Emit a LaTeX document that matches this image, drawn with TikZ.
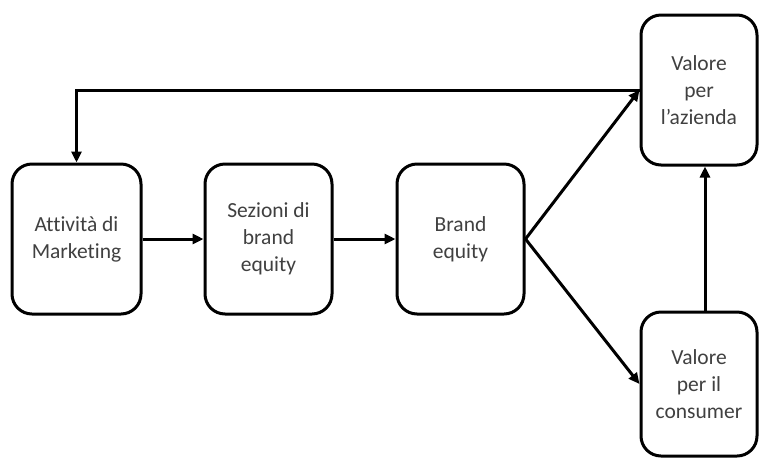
\documentclass[tikz,border=0pt]{standalone}
\usepackage{fontspec}
\setmainfont[Ligatures=NoCommon]{Carlito}
\usetikzlibrary{arrows.meta}
\tikzset{
  box/.style={draw=black, line width=3pt, rounded corners=20pt, fill=white,
    align=center, text=black!75, inner sep=2pt,
    font=\fontsize{21.5}{27}\selectfont},
  link/.style={line width=3pt, -{Triangle[length=11pt,width=10pt]}}
}
\begin{document}
\begin{tikzpicture}[x=1pt,y=-1pt]
  \useasboundingbox (0,0) rectangle (761,459);
  % main chain
  \node[box, minimum width=129pt, minimum height=150pt] (mkt) at (76.5,239) {Attività di\\Marketing};
  \node[box, minimum width=127pt, minimum height=150pt] (sez) at (268.5,239) {Sezioni di\\brand\\equity};
  \node[box, minimum width=127pt, minimum height=150pt] (be)  at (460.5,239) {Brand\\equity};
  % value boxes
  \node[box, minimum width=116pt, minimum height=150pt] (az)  at (699,90) {Valore\\per\\l’azienda};
  \node[box, minimum width=116pt, minimum height=144pt] (con) at (699,384) {Valore\\per il\\consumer};
  % connectors
  \draw[link] (mkt.east) -- (sez.west);
  \draw[link] (sez.east) -- (be.west);
  \draw[link] (be.east) -- (az.west);
  \draw[link] (be.east) -- (con.west);
  \draw[link] ([xshift=6pt]con.north) -- ([xshift=6pt]az.south);
  \draw[link] (az.west) -| (mkt.north);
\end{tikzpicture}
\end{document}
